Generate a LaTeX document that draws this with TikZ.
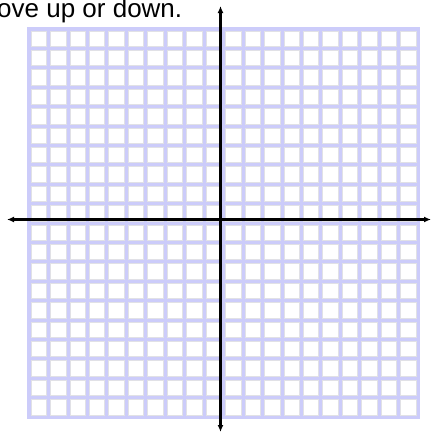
\documentclass[tikz,border=0pt]{standalone}
\usepackage{fontspec}
\setmainfont{Liberation Sans}
\usetikzlibrary{arrows.meta}
\definecolor{lav}{RGB}{204,204,250}
\definecolor{cellgray}{RGB}{225,225,230}
\tikzset{
  axisline/.style={line width=2.6pt, black, -{Latex[length=7pt,width=6pt]}},
  cellbox/.style={fill=white, draw=cellgray, line width=0.7pt}
}
\begin{document}
\begin{tikzpicture}[x=1pt,y=-1pt]
\useasboundingbox (0,0) rectangle (431,432);
\begin{scope}
\clip (0,0) rectangle (431,432);
% grid background
\fill[lav] (27,27) rectangle (420,419);
\foreach \i in {0,...,19}{
  \foreach \j in {0,...,19}{
    \pgfmathsetmacro{\xa}{29+19.45*\i+2}
    \pgfmathsetmacro{\xb}{29+19.45*(\i+1)-2}
    \pgfmathsetmacro{\ya}{29+19.4*\j+2}
    \pgfmathsetmacro{\yb}{29+19.4*(\j+1)-2}
    \path[cellbox] (\xa,\ya) rectangle (\xb,\yb);
  }
}
\node[anchor=base west, inner sep=0pt, font=\fontsize{26}{30}\selectfont] (caption) at (-3,17) {ove up or down.};
\end{scope}
\coordinate (left) at (7,219.5);
\coordinate (right) at (431,219.5);
\coordinate (top) at (220.5,6);
\coordinate (bottom) at (220.5,432);
\coordinate (origin) at (220.5,219.5);
\draw[axisline] (origin) -- (left);
\draw[axisline] (origin) -- (right);
\draw[axisline] (origin) -- (top);
\draw[axisline] (origin) -- (bottom);
\end{tikzpicture}
\end{document}
